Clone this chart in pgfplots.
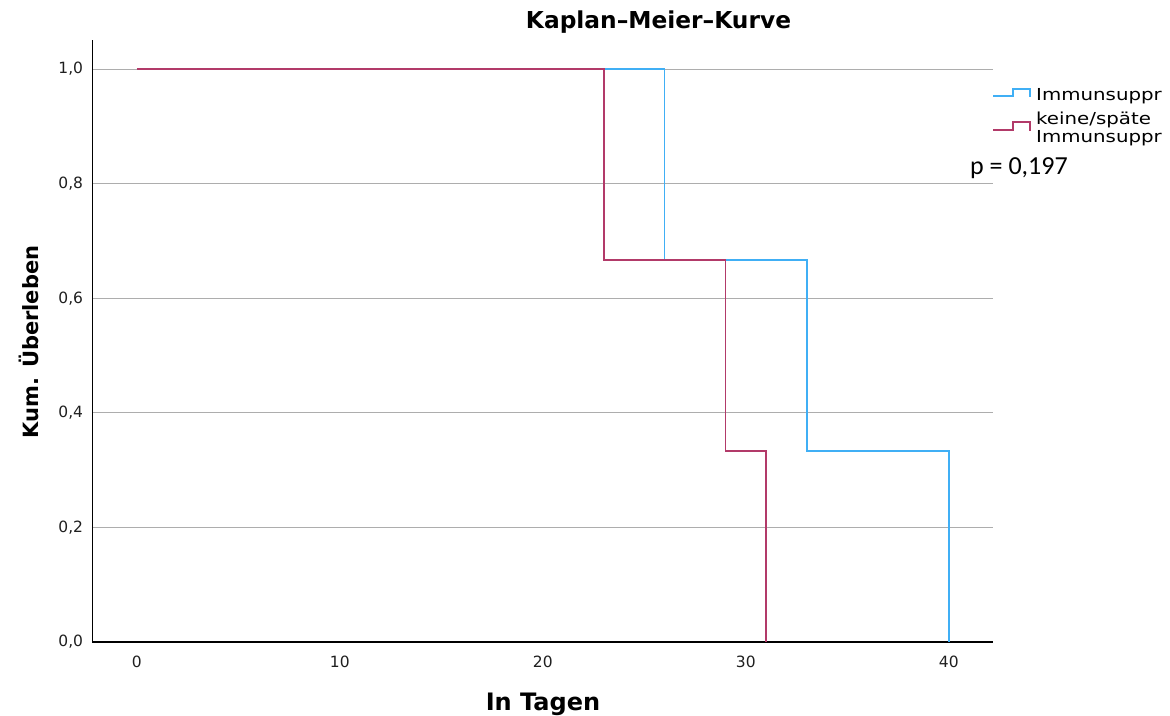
\documentclass[border=0pt]{standalone}
\usepackage{pgfplots}
\pgfplotsset{compat=1.18}
\usepackage{fontspec}
\setmainfont{DejaVu Sans}
\newfontfamily\calib{Carlito}
\definecolor{kmblue}{RGB}{64,175,245}
\definecolor{kmred}{RGB}{178,58,105}
\begin{document}
\begin{tikzpicture}[x=1pt,y=1pt]
\useasboundingbox (0,0) rectangle (1170,-715);
\begin{axis}[
  at={(92.3pt,-642pt)}, anchor=south west, scale only axis,
  width=900.7pt, height=602pt,
  xmin=-2.19, xmax=42.18, ymin=0, ymax=1.0506,
  axis x line*=bottom, axis y line*=left,
  axis line style={black, line width=1.4pt, -},
  xtick={0,10,20,30,40}, ytick={0,0.2,0.4,0.6,0.8,1},
  major tick length=0pt,
  ymajorgrids, grid style={color=black!32, line width=0.9pt},
  /pgf/number format/assume math mode=true,
  yticklabel={\pgfmathprintnumber[fixed,fixed zerofill,precision=1,use comma]{\tick}},
  ticklabel style={font=\fontsize{15.5}{18}\selectfont, text=black!88},
  yticklabel style={anchor=east, inner sep=0pt, xshift=-9pt},
  xticklabel style={anchor=north, inner sep=0pt, yshift=-14pt},
]
\addplot[const plot, kmblue, line width=1.8pt] coordinates {(0,1) (26,0.6667) (33,0.3333) (40,0)};
\addplot[const plot, kmred, line width=1.8pt] coordinates {(0,1) (23,0.6667) (29,0.3333) (31,0)};
\end{axis}
\node[anchor=base, font=\bfseries\fontsize{23.3}{27}\selectfont] at (658.5,-28) {Kaplan–Meier–Kurve};
\node[anchor=base, font=\bfseries\fontsize{24}{28}\selectfont] at (543,-710) {In Tagen};
\node[anchor=base, rotate=90, font=\bfseries\fontsize{21}{25}\selectfont] at (38,-342) {Kum. Überleben};
\draw[kmblue, line width=1.5pt] (993,-96) -- (1013,-96) -- (1013,-89) -- (1030,-89) -- (1030,-97);
\draw[kmred, line width=1.5pt] (993,-130) -- (1013,-130) -- (1013,-122) -- (1030,-122) -- (1030,-131);
\node[anchor=base west, inner sep=0pt, font=\fontsize{16.5}{19}\selectfont] at (1036,-100) {\scalebox{1.2}[1]{Immunsuppr}};
\node[anchor=base west, inner sep=0pt, font=\fontsize{16.5}{19}\selectfont] at (1036,-124) {\scalebox{1.2}[1]{keine/späte}};
\node[anchor=base west, inner sep=0pt, font=\fontsize{16.5}{19}\selectfont] at (1036,-142) {\scalebox{1.2}[1]{Immunsuppr}};
\node[anchor=base west, inner sep=0pt, font=\calib\fontsize{26}{30}\selectfont] at (970,-174) {p = 0,197};
\end{tikzpicture}
\end{document}
